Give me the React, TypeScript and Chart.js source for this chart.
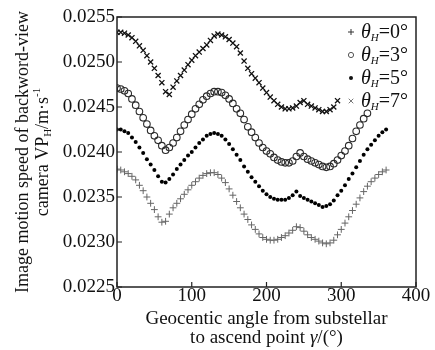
import React, { useEffect, useRef } from "react";
import { Chart, registerables } from "chart.js";

Chart.register(...registerables);

// Geocentric angle γ (degrees) at which each sample is taken
const angles = [
  0, 5, 10, 15, 20, 25, 30, 35, 40, 45, 50, 55, 60, 65, 70, 75, 80, 85, 90, 95,
  100, 105, 110, 115, 120, 125, 130, 135, 140, 145, 150, 155, 160, 165, 170, 175,
  180, 185, 190, 195, 200, 205, 210, 215, 220, 225, 230, 235, 240, 245, 250, 255,
  260, 265, 270, 275, 280, 285, 290, 295, 300, 305, 310, 315, 320, 325, 330, 335,
  340, 345, 350, 355, 360,
];

// θH = 0°
const vp0 = [
  0.02533, 0.02533, 0.02532, 0.0253, 0.02527, 0.02523, 0.02518, 0.02513, 0.02507, 0.025,
  0.02493, 0.02485, 0.02477, 0.02467, 0.02464, 0.02472, 0.02479, 0.02485, 0.02491, 0.02497,
  0.02502, 0.02507, 0.02511, 0.02515, 0.02519, 0.02524, 0.02529, 0.02531, 0.0253, 0.02528,
  0.02525, 0.02521, 0.02517, 0.0251, 0.02501, 0.02493, 0.02487, 0.02482, 0.02477, 0.02471,
  0.02466, 0.02461, 0.02457, 0.02453, 0.0245, 0.02448, 0.02448, 0.02449, 0.02451, 0.02455,
  0.02457, 0.02453, 0.02451, 0.02449, 0.02447, 0.02445, 0.02445, 0.02447, 0.0245, 0.02457,
];

// θH = 3°
const vp3 = [
  0.02471, 0.0247, 0.02468, 0.02465, 0.02459, 0.02452, 0.02445, 0.02438, 0.02431, 0.02424,
  0.02418, 0.02413, 0.02407, 0.02402, 0.02405, 0.0241, 0.02416, 0.02423, 0.0243, 0.02436,
  0.02442, 0.02448, 0.02453, 0.02458, 0.02462, 0.02465, 0.02467, 0.02467, 0.02466, 0.02463,
  0.02459, 0.02454, 0.02448, 0.02443, 0.02436, 0.02428, 0.02422, 0.02416, 0.0241, 0.02405,
  0.02401, 0.02398, 0.02394, 0.02391, 0.02389, 0.02388, 0.02388, 0.0239, 0.02395, 0.02399,
  0.02395, 0.02392, 0.0239, 0.02388, 0.02386, 0.02384, 0.02383, 0.02384, 0.02387, 0.02391,
  0.02396, 0.02401, 0.02407, 0.02415, 0.02423, 0.0243, 0.02437, 0.02443,
];

// θH = 5°
const vp5 = [
  0.02425, 0.02425, 0.02423, 0.02421, 0.02416, 0.02411, 0.02405, 0.02399, 0.02392, 0.02386,
  0.0238, 0.02373, 0.02367, 0.02366, 0.0237, 0.02375, 0.02381, 0.02386, 0.02391, 0.02396,
  0.024, 0.02405, 0.0241, 0.02414, 0.02418, 0.0242, 0.02421, 0.0242, 0.02418, 0.02414,
  0.02409, 0.02403, 0.02397, 0.02391, 0.02384, 0.02378, 0.02372, 0.02367, 0.02362, 0.02357,
  0.02353, 0.0235, 0.02348, 0.02347, 0.02347, 0.02347, 0.02349, 0.02352, 0.02356, 0.02351,
  0.02349, 0.02347, 0.02345, 0.02343, 0.02341, 0.02339, 0.0234, 0.02342, 0.02346, 0.02352,
  0.02357, 0.02363, 0.0237, 0.02376, 0.02383, 0.0239, 0.02397, 0.02403, 0.02408, 0.02413,
  0.02418, 0.02422, 0.02425,
];

// θH = 7°
const vp7 = [
  0.02381, 0.0238, 0.02378, 0.02376, 0.02373, 0.02369, 0.02363, 0.02357, 0.0235, 0.02343,
  0.02336, 0.02328, 0.02322, 0.02323, 0.02331, 0.02338, 0.02343, 0.02348, 0.02353, 0.02358,
  0.02363, 0.02367, 0.02371, 0.02374, 0.02376, 0.02377, 0.02377, 0.02375, 0.02371, 0.02366,
  0.02359, 0.02352, 0.02345, 0.02338, 0.02331, 0.02325, 0.02319, 0.02314, 0.02309, 0.02305,
  0.02303, 0.02302, 0.02302, 0.02303, 0.02305, 0.02307, 0.0231, 0.02313, 0.02317, 0.02316,
  0.02312, 0.02308, 0.02305, 0.02303, 0.02301, 0.02299, 0.02298, 0.02299, 0.02302, 0.02308,
  0.02314, 0.02321, 0.02328, 0.02335, 0.02342, 0.02349, 0.02356, 0.02362, 0.02367, 0.02371,
  0.02375, 0.02378, 0.0238,
];

const seriesNames = ["0°", "3°", "5°", "7°"];
const xTicks = [0, 100, 200, 300, 400];
const yTicks = [0.0225, 0.023, 0.0235, 0.024, 0.0245, 0.025, 0.0255];

const SERIF = '"Liberation Serif", "Times New Roman", serif';

const toPoints = (vals: number[]) => vals.map((v, i) => ({ x: angles[i], y: v }));

const decorPlugin = {
  id: "decor",
  afterDraw(chart: any) {
    const { ctx, chartArea: a, scales } = chart;
    ctx.save();
    // frame
    ctx.strokeStyle = "#222";
    ctx.lineWidth = 1.5;
    ctx.strokeRect(a.left, a.top, a.right - a.left, a.bottom - a.top);
    // inward ticks
    ctx.lineWidth = 1.2;
    ctx.beginPath();
    for (const t of xTicks) {
      const px = scales.x.getPixelForValue(t);
      ctx.moveTo(px, a.bottom);
      ctx.lineTo(px, a.bottom - 5);
    }
    for (const t of yTicks) {
      const py = scales.y.getPixelForValue(t);
      ctx.moveTo(a.left, py);
      ctx.lineTo(a.left + 5, py);
    }
    ctx.stroke();

    ctx.fillStyle = "#111";
    ctx.textBaseline = "alphabetic";

    // y title (rotated, two lines)
    const cy = (a.top + a.bottom) / 2;
    ctx.save();
    ctx.translate(28, cy);
    ctx.rotate(-Math.PI / 2);
    ctx.font = `18px ${SERIF}`;
    ctx.textAlign = "center";
    ctx.fillText("Image motion speed of backword-view", 0, 0);
    ctx.restore();

    ctx.save();
    ctx.translate(48, cy);
    ctx.rotate(-Math.PI / 2);
    ctx.textAlign = "left";
    const big = `18px ${SERIF}`;
    const small = `11px ${SERIF}`;
    const parts: [string, string, number][] = [
      ["camera VP", big, 0],
      ["H", small, 3],
      ["/m·s", big, 0],
      ["-1", small, -8],
    ];
    let total = 0;
    for (const [t, f] of parts) {
      ctx.font = f;
      total += ctx.measureText(t).width;
    }
    let x = -total / 2;
    for (const [t, f, dy] of parts) {
      ctx.font = f;
      ctx.fillText(t, x, dy);
      x += ctx.measureText(t).width;
    }
    ctx.restore();

    // x title (two lines)
    const cx = (a.left + a.right) / 2;
    ctx.font = `19px ${SERIF}`;
    ctx.textAlign = "center";
    ctx.fillText("Geocentic angle from substellar", cx, 324);
    const xparts: [string, string][] = [
      ["to ascend point ", `19px ${SERIF}`],
      ["γ", `italic 19px ${SERIF}`],
      ["/(°)", `19px ${SERIF}`],
    ];
    ctx.textAlign = "left";
    let w2 = 0;
    for (const [t, f] of xparts) {
      ctx.font = f;
      w2 += ctx.measureText(t).width;
    }
    let x2 = cx - w2 / 2;
    for (const [t, f] of xparts) {
      ctx.font = f;
      ctx.fillText(t, x2, 343);
      x2 += ctx.measureText(t).width;
    }

    // legend
    const markers = ["plus", "circle", "dot", "cross"];
    const mcol = ["#333", "#555", "#111", "#777"];
    for (let i = 0; i < seriesNames.length; i++) {
      const ly = a.top + 15 + i * 23;
      const mx = 351;
      ctx.strokeStyle = mcol[i];
      ctx.fillStyle = mcol[i];
      ctx.lineWidth = 1;
      ctx.beginPath();
      if (markers[i] === "plus") {
        ctx.moveTo(mx - 3, ly);
        ctx.lineTo(mx + 3, ly);
        ctx.moveTo(mx, ly - 3);
        ctx.lineTo(mx, ly + 3);
        ctx.stroke();
      } else if (markers[i] === "circle") {
        ctx.arc(mx, ly, 2.6, 0, Math.PI * 2);
        ctx.stroke();
      } else if (markers[i] === "dot") {
        ctx.arc(mx, ly, 2, 0, Math.PI * 2);
        ctx.fill();
      } else {
        ctx.moveTo(mx - 2.3, ly - 2.3);
        ctx.lineTo(mx + 2.3, ly + 2.3);
        ctx.moveTo(mx + 2.3, ly - 2.3);
        ctx.lineTo(mx - 2.3, ly + 2.3);
        ctx.stroke();
      }
      ctx.fillStyle = "#111";
      let tx = 361;
      const base = ly + 6;
      ctx.font = `italic 20px ${SERIF}`;
      ctx.fillText("θ", tx, base);
      tx += ctx.measureText("θ").width;
      ctx.font = `italic 11px ${SERIF}`;
      ctx.fillText("H", tx, base + 3);
      tx += ctx.measureText("H").width;
      ctx.font = `20px ${SERIF}`;
      ctx.fillText("=" + seriesNames[i], tx, base);
    }
    ctx.restore();
  },
};

export default function App() {
  const ref = useRef<HTMLCanvasElement | null>(null);

  useEffect(() => {
    document.body.style.margin = "0";
    if (!ref.current) return;
    const chart = new Chart(ref.current, {
      type: "scatter",
      data: {
        datasets: [
          {
            label: "θH=0°",
            data: toPoints(vp0),
            pointStyle: "crossRot",
            pointRadius: 3.6,
            borderColor: "#111",
            backgroundColor: "#111",
            borderWidth: 1.3,
          },
          {
            label: "θH=3°",
            data: toPoints(vp3),
            pointStyle: "circle",
            pointRadius: 3.3,
            borderColor: "#2a2a2a",
            backgroundColor: "rgba(0,0,0,0)",
            borderWidth: 1.1,
          },
          {
            label: "θH=5°",
            data: toPoints(vp5),
            pointStyle: "circle",
            pointRadius: 2,
            borderColor: "#000",
            backgroundColor: "#000",
            borderWidth: 0,
          },
          {
            label: "θH=7°",
            data: toPoints(vp7),
            pointStyle: "cross",
            pointRadius: 3.4,
            borderColor: "#666",
            backgroundColor: "#666",
            borderWidth: 1,
          },
        ],
      },
      options: {
        animation: false,
        responsive: false,
        devicePixelRatio: 1,
        layout: { padding: { left: 0, top: 17, right: 19, bottom: 0 } },
        plugins: {
          legend: { display: false },
          tooltip: { enabled: false },
        },
        scales: {
          x: {
            type: "linear",
            min: 0,
            max: 400,
            afterFit: (s: any) => {
              s.height = 63;
            },
            afterBuildTicks: (s: any) => {
              s.ticks = xTicks.map((v) => ({ value: v }));
            },
            grid: { display: false, drawTicks: false },
            border: { display: false },
            ticks: {
              padding: -2,
              color: "#111",
              font: { family: SERIF, size: 19 },
              maxRotation: 0,
            },
          },
          y: {
            type: "linear",
            min: 0.0225,
            max: 0.0255,
            afterFit: (s: any) => {
              s.width = 117;
            },
            afterBuildTicks: (s: any) => {
              s.ticks = yTicks.map((v) => ({ value: v }));
            },
            grid: { display: false, drawTicks: false },
            border: { display: false },
            ticks: {
              padding: 2,
              color: "#111",
              font: { family: SERIF, size: 19 },
              callback: (v: any) => Number(v).toFixed(4),
            },
          },
        },
      },
      plugins: [decorPlugin],
    });
    return () => chart.destroy();
  }, []);

  return (
    <div style={{ width: 435, height: 350, background: "#fff" }}>
      <canvas ref={ref} width={435} height={350} style={{ display: "block" }} />
    </div>
  );
}
